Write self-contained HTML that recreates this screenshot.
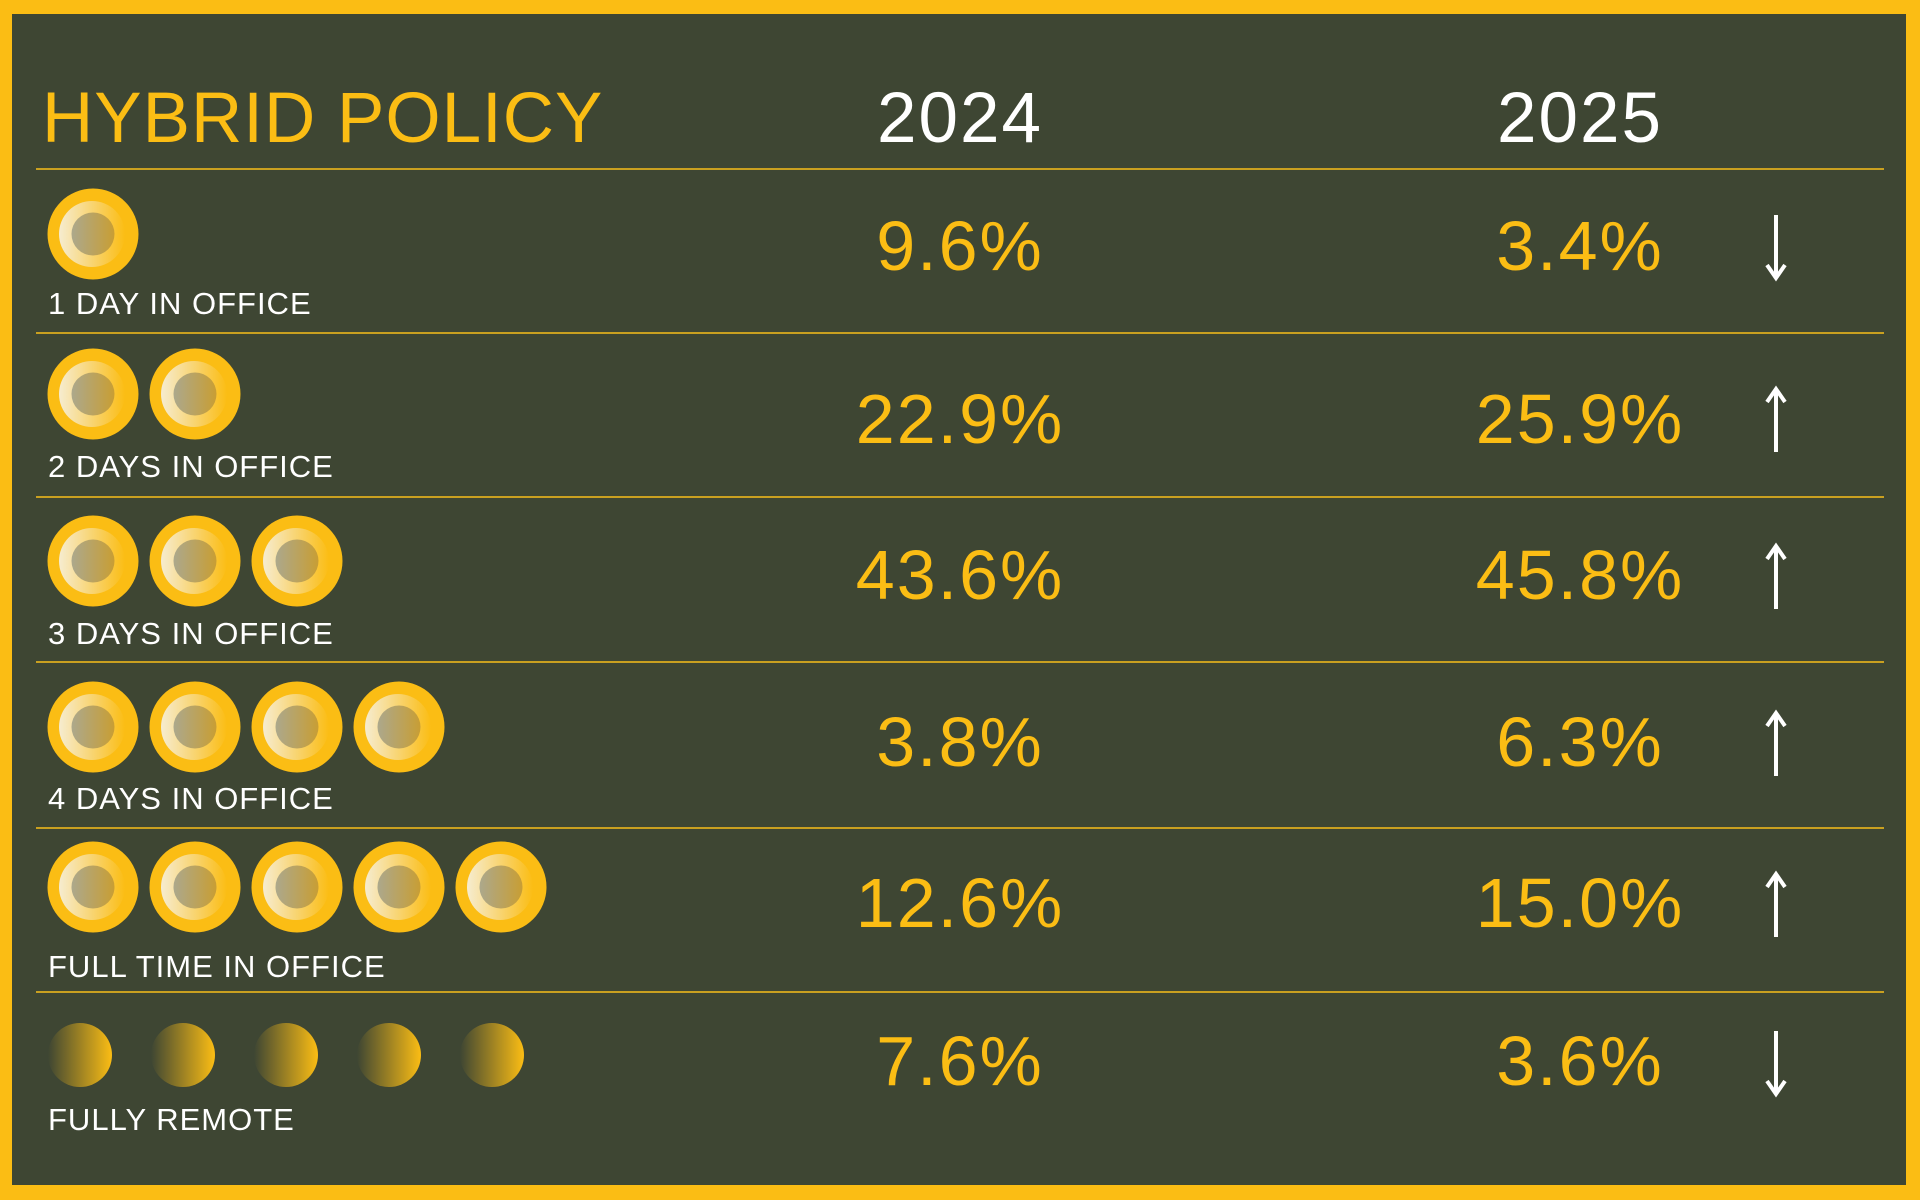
<!DOCTYPE html>
<html><head><meta charset="utf-8"><style>
html,body{margin:0;padding:0}
body{width:1920px;height:1200px;background:#fbbd14;position:relative;overflow:hidden;font-family:"Liberation Sans",sans-serif}
#bg{position:absolute;left:12px;top:14px;width:1894px;height:1171px;background:#3e4633}
.t{position:absolute;line-height:1;white-space:nowrap}
.title{left:42px;top:83px;font-size:71px;color:#fbbd14;letter-spacing:1px}
.yr{top:83px;font-size:71px;color:#fff;transform:translateX(-50%);letter-spacing:2px}
.num{font-size:70px;color:#fbbd14;transform:translateX(-50%);letter-spacing:2px}
.lbl{left:48px;font-size:31px;color:#fff;letter-spacing:1px}
.line{position:absolute;left:36px;width:1848px;height:2px;background:#c9a020}
</style></head><body>
<div id="bg"></div>
<div class="t title">HYBRID POLICY</div>
<div class="t yr" style="left:960px">2024</div>
<div class="t yr" style="left:1580px">2025</div>
<div class="line" style="top:168px"></div>
<div class="line" style="top:332px"></div>
<div class="line" style="top:496px"></div>
<div class="line" style="top:661px"></div>
<div class="line" style="top:827px"></div>
<div class="line" style="top:991px"></div>

<div class="t num" style="left:960px;top:211px">9.6%</div>
<div class="t num" style="left:1580px;top:211px">3.4%</div>
<div class="t num" style="left:960px;top:384px">22.9%</div>
<div class="t num" style="left:1580px;top:384px">25.9%</div>
<div class="t num" style="left:960px;top:540px">43.6%</div>
<div class="t num" style="left:1580px;top:540px">45.8%</div>
<div class="t num" style="left:960px;top:707px">3.8%</div>
<div class="t num" style="left:1580px;top:707px">6.3%</div>
<div class="t num" style="left:960px;top:868px">12.6%</div>
<div class="t num" style="left:1580px;top:868px">15.0%</div>
<div class="t num" style="left:960px;top:1026px">7.6%</div>
<div class="t num" style="left:1580px;top:1026px">3.6%</div>

<div class="t lbl" style="top:288px">1 DAY IN OFFICE</div>
<div class="t lbl" style="top:451px">2 DAYS IN OFFICE</div>
<div class="t lbl" style="top:618px">3 DAYS IN OFFICE</div>
<div class="t lbl" style="top:783px">4 DAYS IN OFFICE</div>
<div class="t lbl" style="top:951px">FULL TIME IN OFFICE</div>
<div class="t lbl" style="top:1104px">FULLY REMOTE</div>

<svg width="1920" height="1200" style="position:absolute;left:0;top:0">
<defs>
<linearGradient id="ring" x1="0" x2="1" y1="0" y2="0"><stop offset="0" stop-color="#f6ecd0"/><stop offset="1" stop-color="#fbbd14"/></linearGradient>
<linearGradient id="core" x1="0" x2="1" y1="0" y2="0"><stop offset="0" stop-color="#aca88c"/><stop offset="1" stop-color="#c89e34"/></linearGradient>
<linearGradient id="rem" x1="0" x2="1" y1="0" y2="0"><stop offset="0" stop-color="#3e4633"/><stop offset="1" stop-color="#fbbd14"/></linearGradient>
<g id="c"><circle r="45.5" fill="#fbbd14"/><circle cx="-1" r="33" fill="url(#ring)"/><circle r="21.5" fill="url(#core)"/></g>
<g id="r"><circle r="32" fill="url(#rem)"/></g>
<g id="up"><line x1="0" y1="-30" x2="0" y2="32" stroke="#fff" stroke-width="4"/><polyline points="-9,-18 0,-31 9,-18" fill="none" stroke="#fff" stroke-width="4"/></g>
<g id="dn"><line x1="0" y1="-32" x2="0" y2="30" stroke="#fff" stroke-width="4"/><polyline points="-9,18 0,31 9,18" fill="none" stroke="#fff" stroke-width="4"/></g>
</defs>
<use href="#c" x="93" y="234"/>
<use href="#c" x="93" y="394"/><use href="#c" x="195" y="394"/>
<use href="#c" x="93" y="561"/><use href="#c" x="195" y="561"/><use href="#c" x="297" y="561"/>
<use href="#c" x="93" y="727"/><use href="#c" x="195" y="727"/><use href="#c" x="297" y="727"/><use href="#c" x="399" y="727"/>
<use href="#c" x="93" y="887"/><use href="#c" x="195" y="887"/><use href="#c" x="297" y="887"/><use href="#c" x="399" y="887"/><use href="#c" x="501" y="887"/>
<use href="#r" x="80" y="1055"/><use href="#r" x="183" y="1055"/><use href="#r" x="286" y="1055"/><use href="#r" x="389" y="1055"/><use href="#r" x="492" y="1055"/>
<use href="#dn" x="1776" y="247"/>
<use href="#up" x="1776" y="420"/>
<use href="#up" x="1776" y="577"/>
<use href="#up" x="1776" y="744"/>
<use href="#up" x="1776" y="905"/>
<use href="#dn" x="1776" y="1063"/>
</svg>
</body></html>
